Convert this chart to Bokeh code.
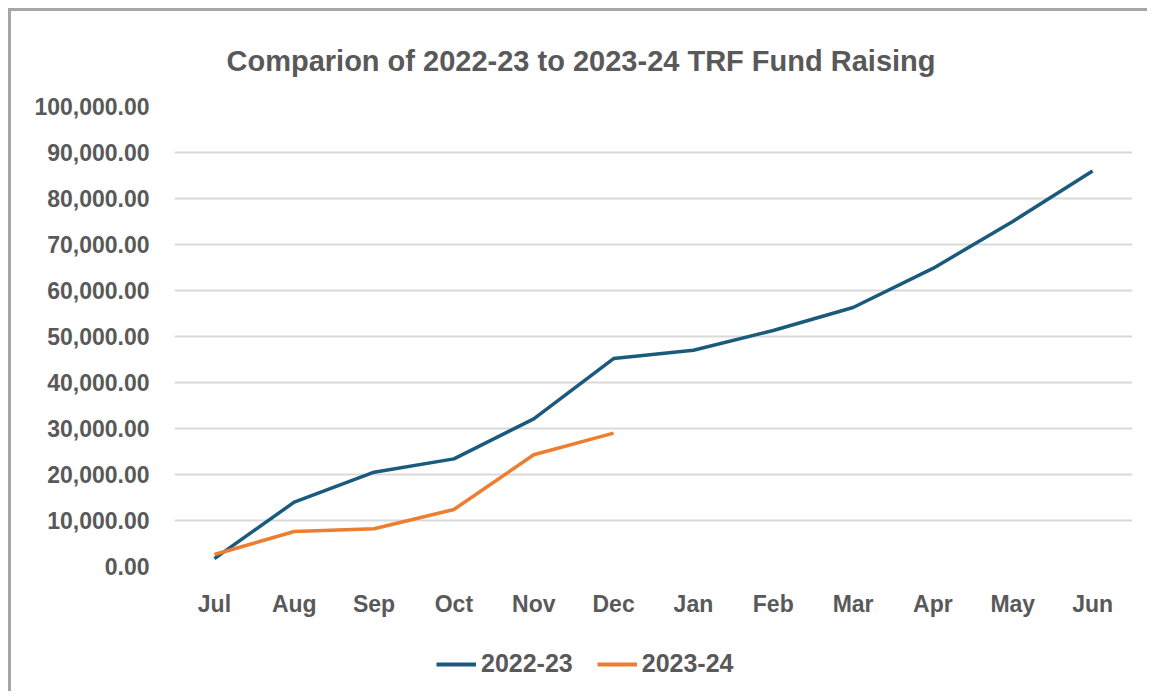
from bokeh.plotting import figure
from bokeh.layouts import column
from bokeh.embed import file_html
from bokeh.resources import INLINE
from bokeh.models import (FixedTicker, NumeralTickFormatter, Legend, LegendItem, Title, Range1d)

months = ["Jul", "Aug", "Sep", "Oct", "Nov", "Dec", "Jan", "Feb", "Mar", "Apr", "May", "Jun"]
fy2022_23 = [1700, 14000, 20500, 23400, 32100, 45200, 47000, 51300, 56300, 64800, 75000, 86000]
fy2023_24 = [2600, 7600, 8200, 12400, 24300, 29000]
series_names = ["2022-23", "2023-24"]
series_colors = ["#1a5b7d", "#ed7d31"]
y_ticks = [0, 10000, 20000, 30000, 40000, 50000, 60000, 70000, 80000, 90000, 100000]

FONT = "Liberation Sans"
TXT = "#595959"

p = figure(x_range=months, y_range=(0, 100000), width=1136, height=619,
           output_backend="svg", toolbar_location=None,
           min_border_left=163, min_border_right=15, min_border_top=95, min_border_bottom=64)

p.outline_line_color = None
p.xgrid.grid_line_color = None
p.ygrid.grid_line_color = "#d9d9d9"
p.ygrid.grid_line_width = 2
p.ygrid.ticker = FixedTicker(ticks=y_ticks)

p.yaxis.ticker = FixedTicker(ticks=y_ticks)
p.yaxis.formatter = NumeralTickFormatter(format="0,0.00")
for ax in (p.xaxis, p.yaxis):
    ax.axis_line_color = None
    ax.major_tick_line_color = None
    ax.minor_tick_line_color = None
    ax.major_label_text_font = FONT
    ax.major_label_text_font_style = "bold"
    ax.major_label_text_color = TXT
    ax.major_label_text_font_size = "23px"
p.yaxis.major_label_standoff = 19
p.xaxis.major_label_standoff = 18

p.line(months, fy2022_23, line_color=series_colors[0], line_width=3.5)
p.line(months[:len(fy2023_24)], fy2023_24, line_color=series_colors[1], line_width=3.5)

title = Title(text="Comparion of 2022-23 to 2023-24 TRF Fund Raising", align="left",
              text_font=FONT, text_font_style="bold", text_font_size="29px",
              text_color=TXT, offset=52, standoff=60)
p.add_layout(title, "above")

# legend strip below the chart (its lines sit outside the visible range; only legend glyphs show)
p2 = figure(width=1136, height=61, x_range=Range1d(0, 1), y_range=Range1d(0, 1),
            output_backend="svg", toolbar_location=None,
            min_border_left=0, min_border_right=0, min_border_top=0, min_border_bottom=0)
p2.axis.visible = False
p2.grid.visible = False
p2.outline_line_color = None
k1 = p2.line(x=[0, 1], y=[5, 5], line_color=series_colors[0], line_width=4)
k2 = p2.line(x=[0, 1], y=[5, 5], line_color=series_colors[1], line_width=4)
legend = Legend(items=[LegendItem(label=series_names[0], renderers=[k1]),
                       LegendItem(label=series_names[1], renderers=[k2])],
                orientation="horizontal", location=(262, 13), padding=5, margin=0,
                label_text_font=FONT, label_text_font_style="bold",
                label_text_font_size="25px", label_text_color=TXT,
                glyph_width=40, glyph_height=20, label_standoff=5, spacing=24,
                border_line_color=None, background_fill_alpha=0)
p2.add_layout(legend, "center")

layout = column(p, p2, spacing=0)
layout.styles = {"border-top": "3px solid #a6a6a6", "border-left": "3px solid #a6a6a6",
                 "margin-top": "8px", "margin-left": "8px"}

open("out.html", "w").write(file_html(layout, INLINE))
